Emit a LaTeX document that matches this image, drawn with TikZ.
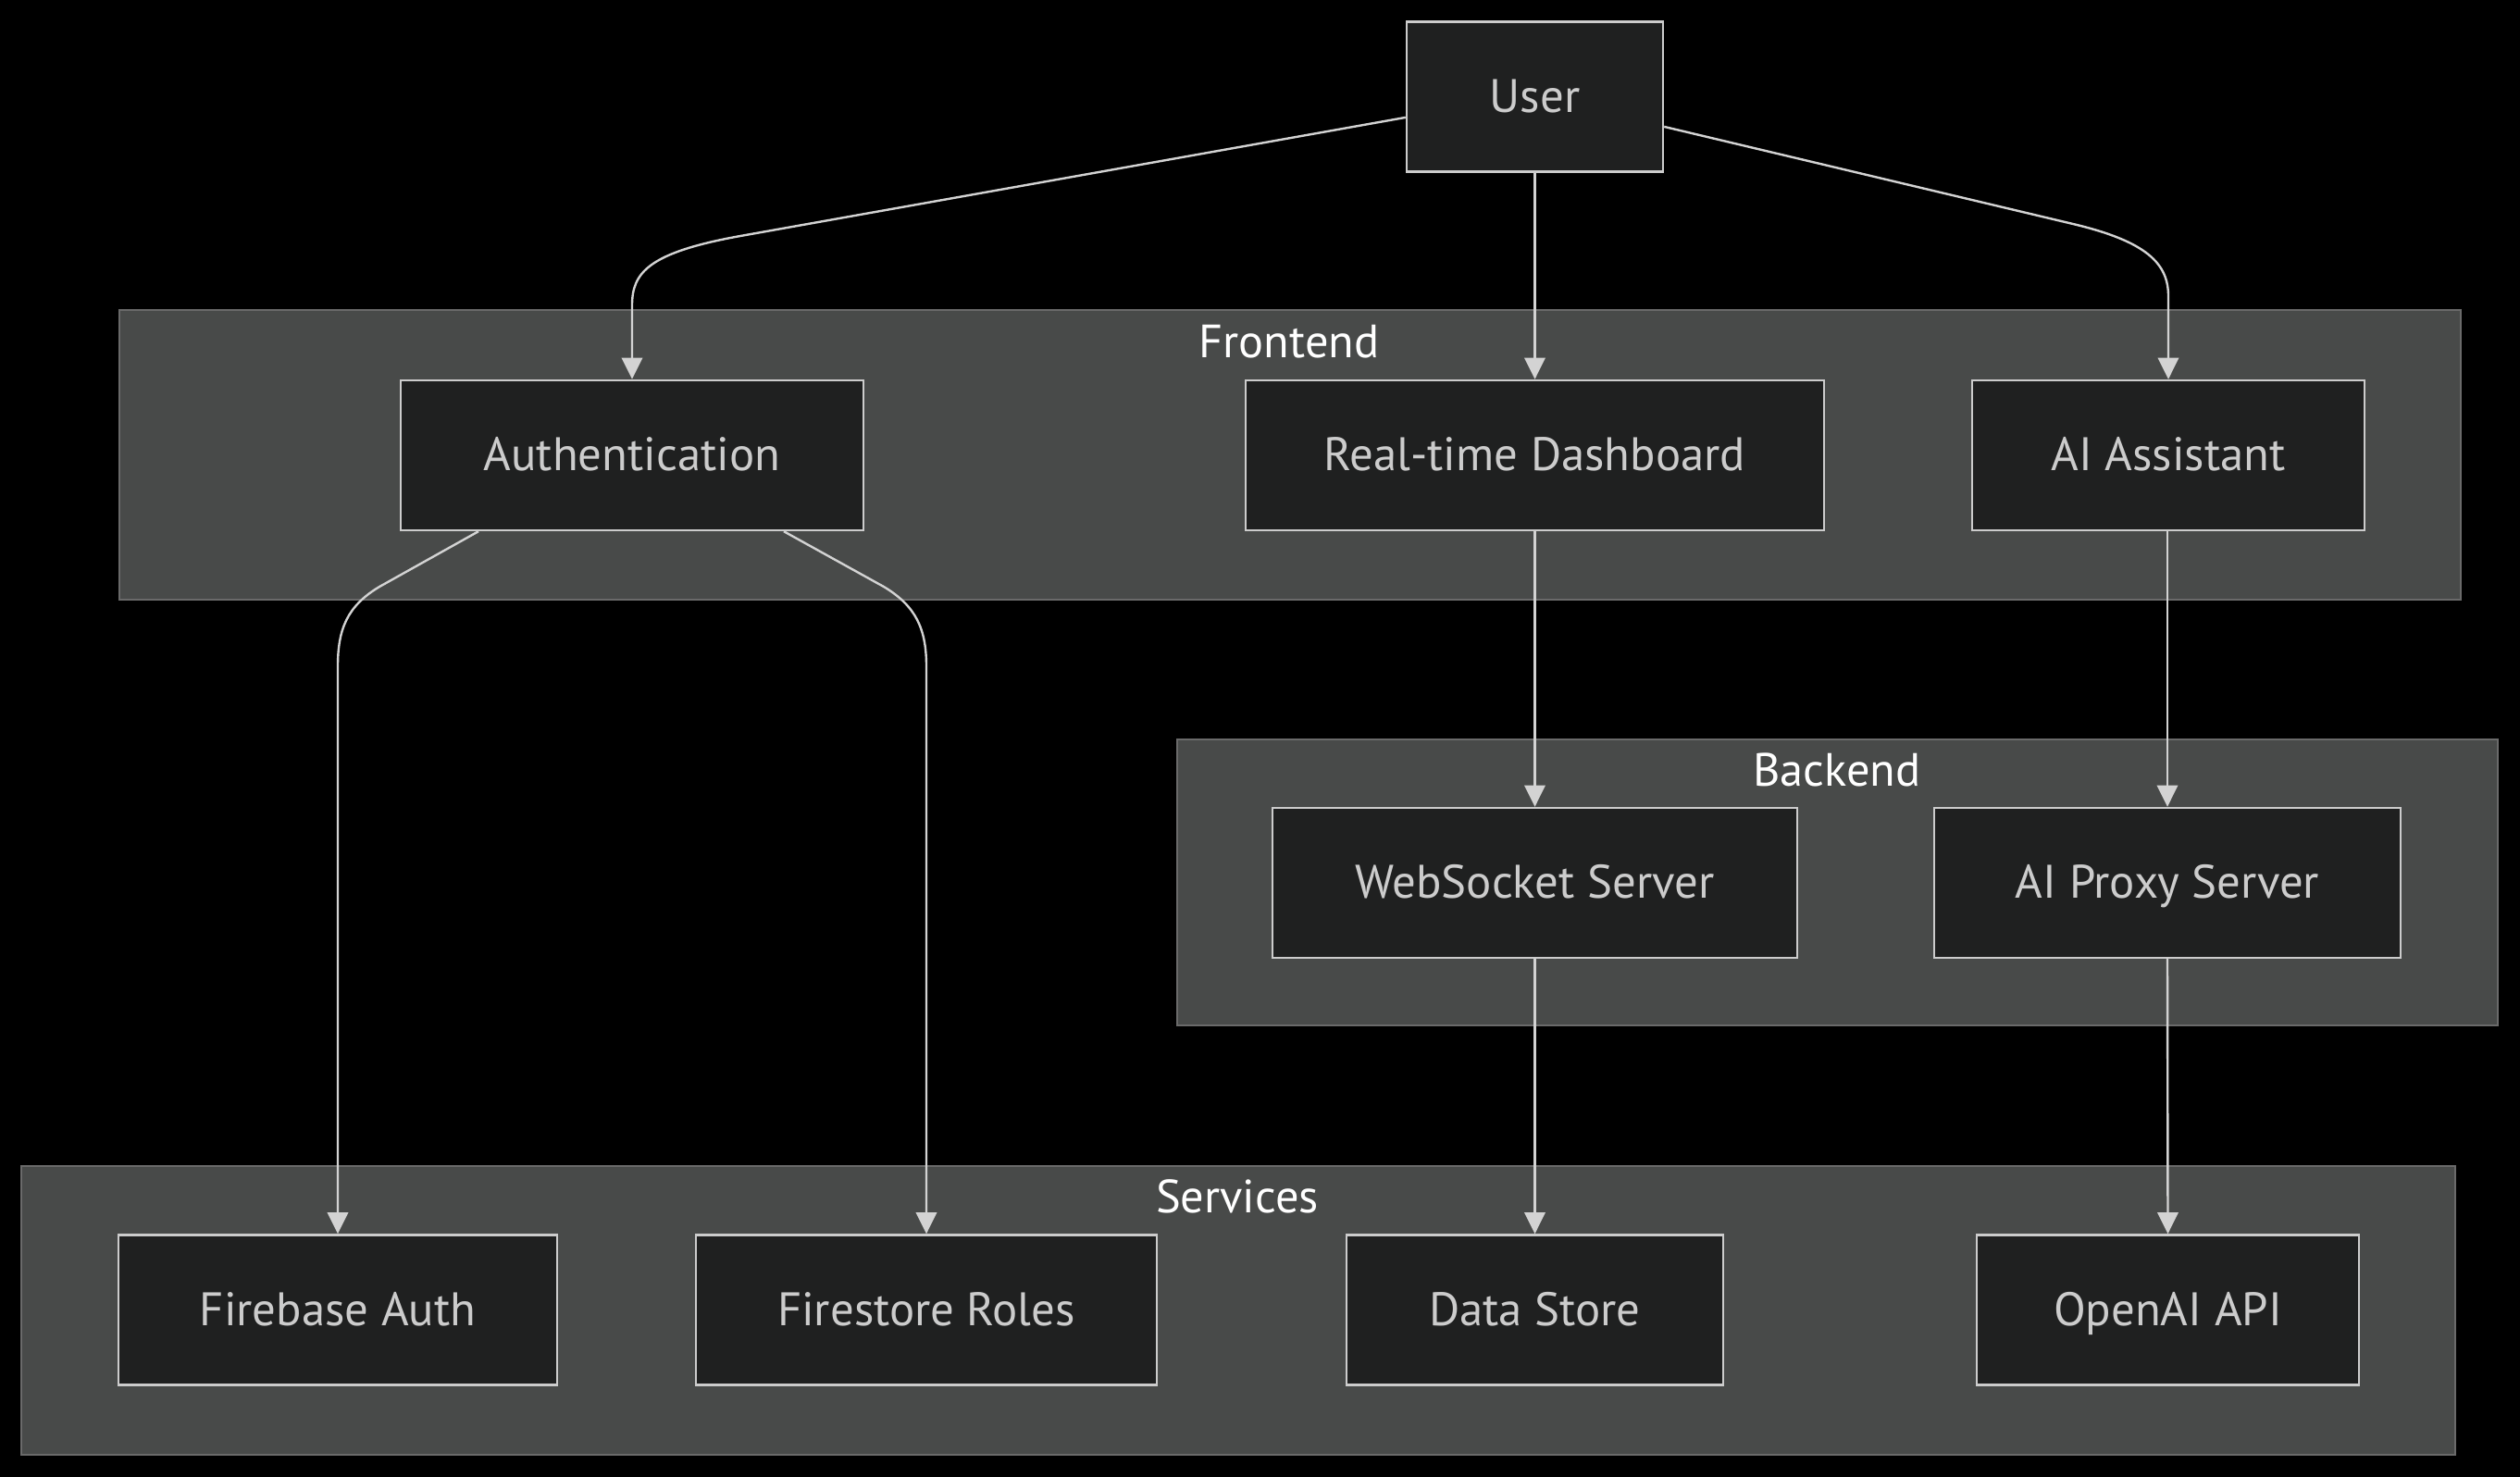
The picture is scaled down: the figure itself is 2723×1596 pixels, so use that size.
\documentclass[tikz,border=0pt]{standalone}
\usepackage{fontspec}
\setmainfont{PT Sans}
\usetikzlibrary{arrows.meta}
\definecolor{nodefill}{HTML}{1F2020}
\definecolor{nodeline}{HTML}{CCCCCC}
\definecolor{clusterfill}{HTML}{484A49}
\definecolor{clusterline}{HTML}{6A6A6A}
\definecolor{edgecol}{HTML}{D3D3D3}
\tikzset{
  box/.style={draw=nodeline, fill=nodefill, line width=0.6pt, inner sep=0pt,
    minimum height=40.5pt, text=nodeline, text height=0.84em, text depth=0pt,
    font=\fontsize{12.7pt}{15pt}\selectfont},
  cluster/.style={draw=clusterline, fill=clusterfill, line width=0.5pt},
  clabel/.style={text=white, font=\fontsize{12.6pt}{15pt}\selectfont, inner sep=0pt,
    text height=0.84em, text depth=0pt},
  edge/.style={draw=edgecol, line width=0.6pt, -{Triangle[length=5.8pt,width=5.6pt]}}
}
\begin{document}
\begin{tikzpicture}[x=0.25pt,y=-0.25pt]
\fill[black] (0,0) rectangle (2723,1596);
\useasboundingbox (0,0) rectangle (2723,1596);
% clusters
\draw[cluster] (128.5,335) rectangle (2659,648);
\draw[cluster] (1272,799) rectangle (2699,1108);
\draw[cluster] (23,1260) rectangle (2653,1572);
\node[clabel] (lfront) at (1393,370) {Frontend};
\node[clabel] (lback) at (1985,833) {Backend};
\node[clabel] (lserv) at (1337,1294) {Services};
% nodes
\node[box, minimum width=69.25pt] (user) at (1658.5,104.5) {User};
\node[box, minimum width=125pt] (auth) at (683,492) {Authentication};
\node[box, minimum width=156.25pt] (dash) at (1658.5,492) {Real-time Dashboard};
\node[box, minimum width=106pt] (ai) at (2343,492) {AI Assistant};
\node[box, minimum width=141.75pt] (ws) at (1658.5,954) {WebSocket Server};
\node[box, minimum width=126pt] (proxy) at (2342,954) {AI Proxy Server};
\node[box, minimum width=118.5pt] (fbauth) at (365,1415.5) {Firebase Auth};
\node[box, minimum width=124.5pt] (roles) at (1001,1415.5) {Firestore Roles};
\node[box, minimum width=101.75pt] (store) at (1658.5,1415.5) {Data Store};
\node[box, minimum width=103.25pt] (openai) at (2342.5,1415.5) {OpenAI API};
% edges
\draw[edge] ([yshift=-5.6pt]user.west) -- (800,255) .. controls (700,273) and (683,295) .. (683,330) -- (auth.north);
\draw[edge] (user.south) -- (dash.north);
\draw[edge] ([yshift=-8.1pt]user.east) -- (2240,242) .. controls (2320,261) and (2343,285) .. (2343,320) -- (ai.north);
\draw[edge] ([xshift=-41.5pt]auth.south) -- (410,634) .. controls (375,655) and (365,680) .. (365,720) -- (fbauth.north);
\draw[edge] ([xshift=41pt]auth.south) -- (955,634) .. controls (990,655) and (1001,680) .. (1001,720) -- (roles.north);
\draw[edge] (dash.south) -- (ws.north);
\draw[edge] (ai.south -| proxy.north) -- (proxy.north);
\draw[edge] (ws.south) -- (store.north);
\draw[edge] (proxy.south) -- (openai.north);
\end{tikzpicture}
\end{document}
